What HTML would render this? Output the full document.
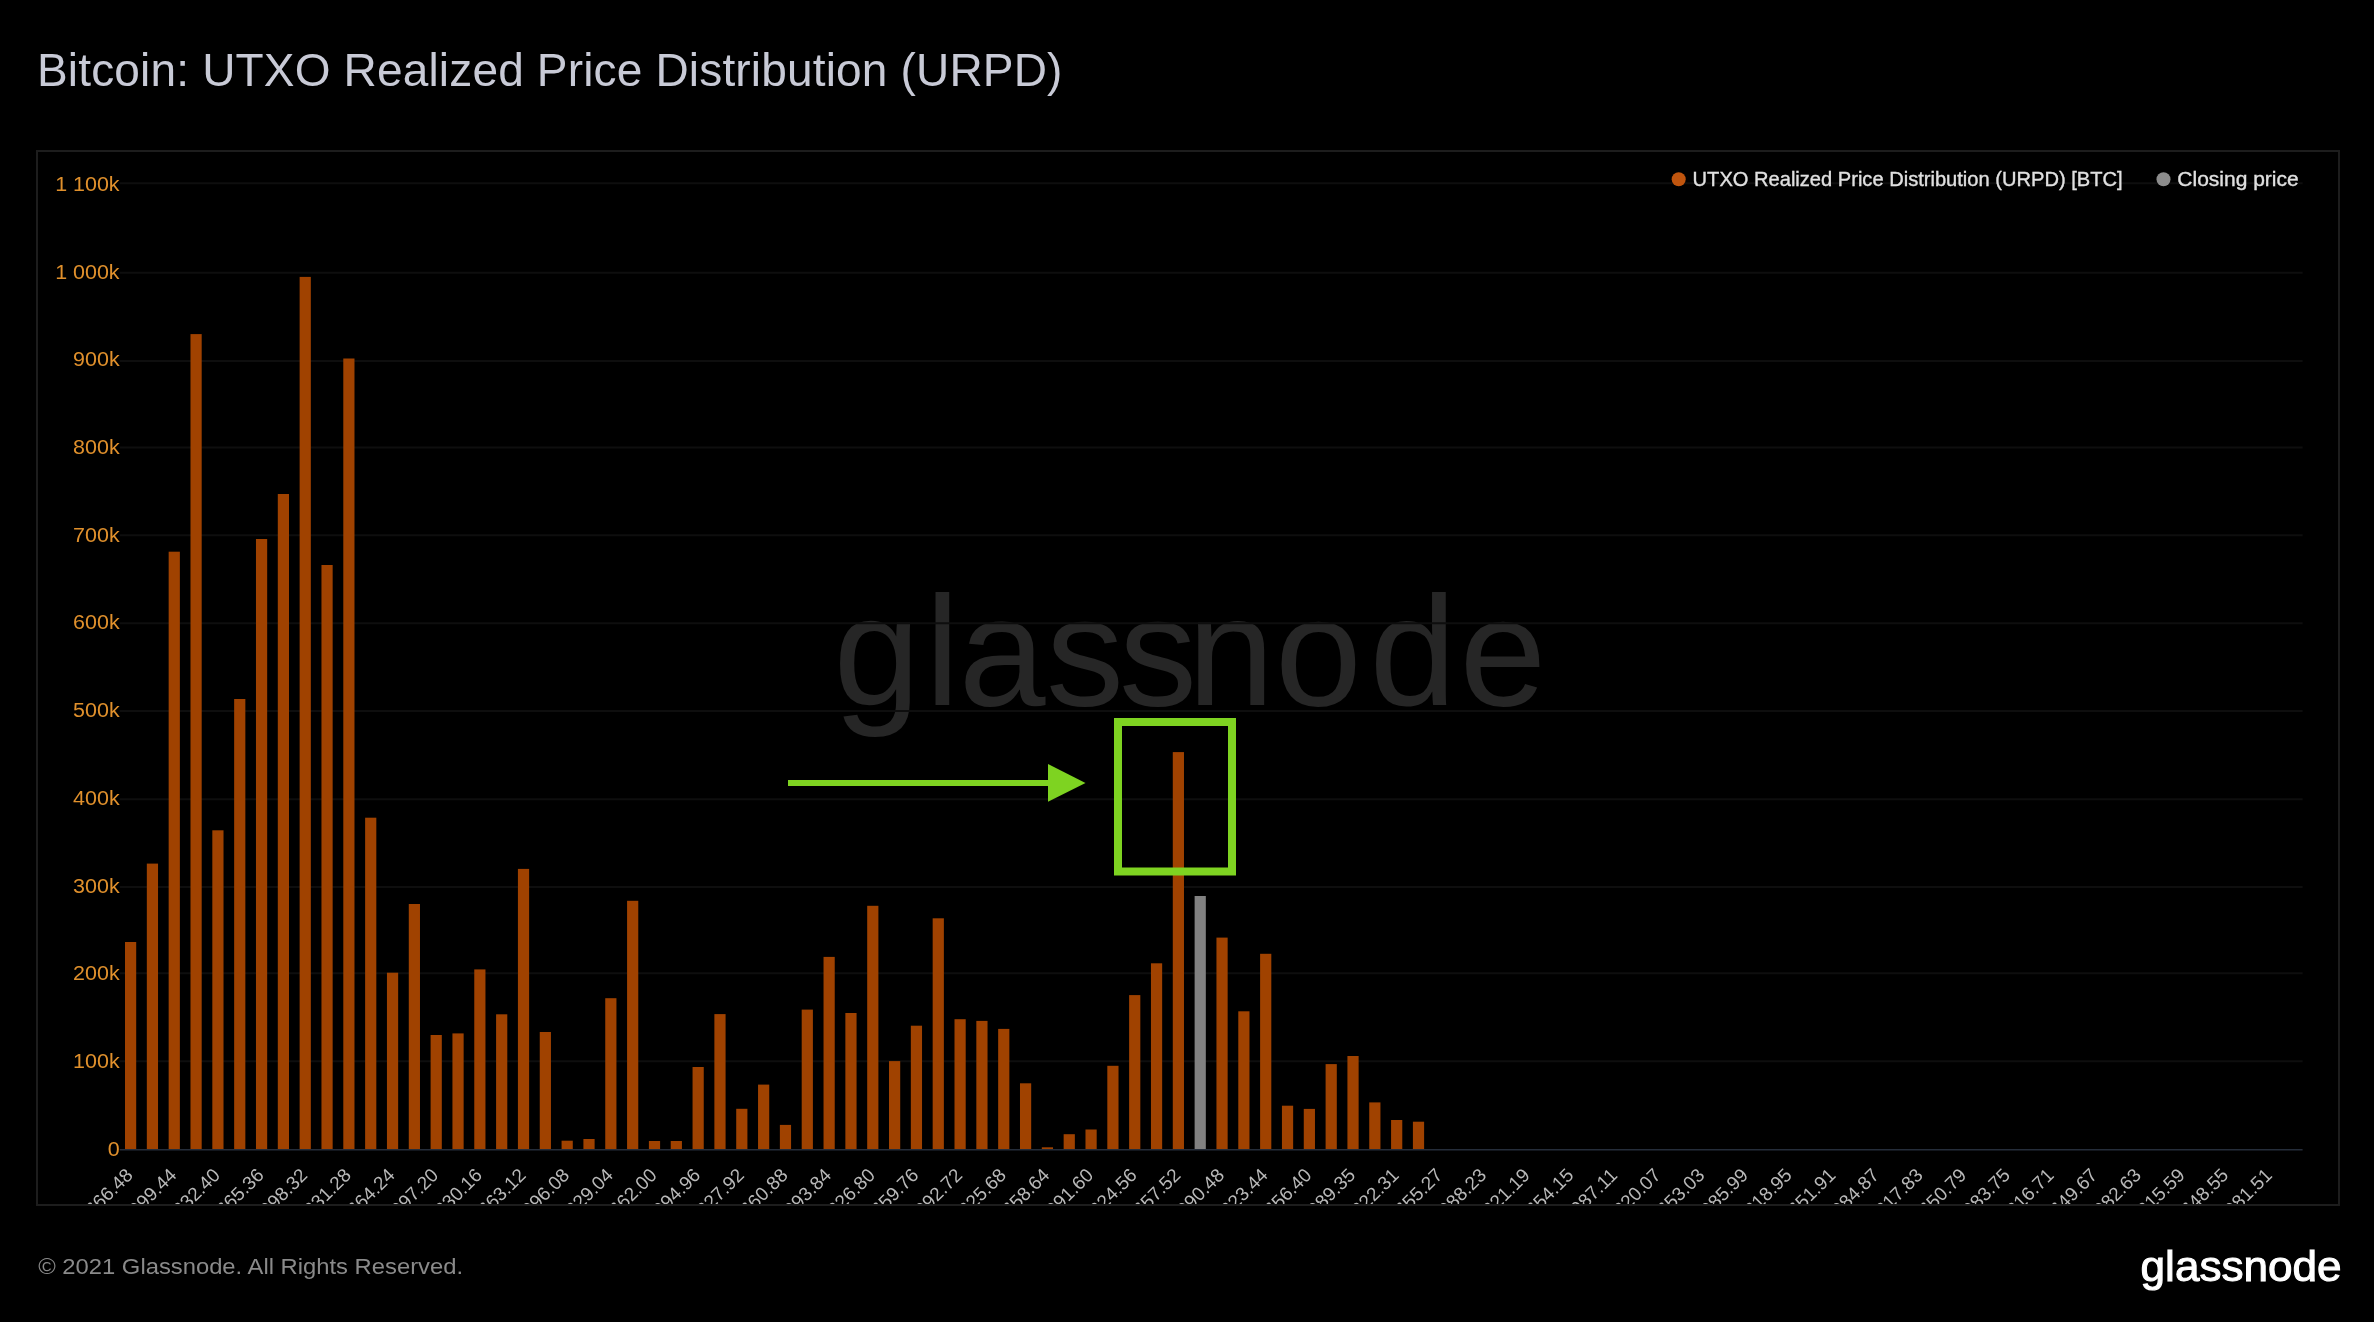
<!DOCTYPE html><html><head><meta charset="utf-8"><title>Bitcoin: UTXO Realized Price Distribution (URPD)</title>
<style>html,body{margin:0;padding:0;background:#000;width:2374px;height:1322px;overflow:hidden}svg{display:block;will-change:transform}text{font-family:"Liberation Sans",Arial,sans-serif}</style></head><body>
<svg width="2374" height="1322" viewBox="0 0 2374 1322">
<defs><clipPath id="cb"><rect x="38" y="152" width="2300" height="1052"/></clipPath></defs>
<rect x="0" y="0" width="2374" height="1322" fill="#000"/>
<text x="37" y="86" font-size="46" letter-spacing="0.17" fill="#c8cad6">Bitcoin: UTXO Realized Price Distribution (URPD)</text>
<rect x="37" y="151" width="2302" height="1054" fill="none" stroke="#1d1d1d" stroke-width="2"/>
<text x="833.5 924.9 958.8 1046 1119 1187.6 1274.9 1369.4 1459.6" y="705" font-size="156" fill="#262626">glassnode</text>
<line x1="119.7" x2="2302.6" y1="1061.3" y2="1061.3" stroke="#0e0e0e" stroke-width="2"/>
<line x1="119.7" x2="2302.6" y1="973.3" y2="973.3" stroke="#0e0e0e" stroke-width="2"/>
<line x1="119.7" x2="2302.6" y1="887.0" y2="887.0" stroke="#0e0e0e" stroke-width="2"/>
<line x1="119.7" x2="2302.6" y1="799.2" y2="799.2" stroke="#0e0e0e" stroke-width="2"/>
<line x1="119.7" x2="2302.6" y1="711.1" y2="711.1" stroke="#0e0e0e" stroke-width="2"/>
<line x1="119.7" x2="2302.6" y1="623.3" y2="623.3" stroke="#0e0e0e" stroke-width="2"/>
<line x1="119.7" x2="2302.6" y1="535.2" y2="535.2" stroke="#0e0e0e" stroke-width="2"/>
<line x1="119.7" x2="2302.6" y1="447.4" y2="447.4" stroke="#0e0e0e" stroke-width="2"/>
<line x1="119.7" x2="2302.6" y1="360.9" y2="360.9" stroke="#0e0e0e" stroke-width="2"/>
<line x1="119.7" x2="2302.6" y1="272.8" y2="272.8" stroke="#0e0e0e" stroke-width="2"/>
<line x1="119.7" x2="2302.6" y1="183.2" y2="183.2" stroke="#0e0e0e" stroke-width="2"/>
<g transform="translate(119.6 0) scale(1.1 1)">
<text x="0" y="1155.9" font-size="19.5" fill="#e0902c" text-anchor="end">0</text>
<text x="0" y="1068.2" font-size="19.5" fill="#e0902c" text-anchor="end">100k</text>
<text x="0" y="980.4" font-size="19.5" fill="#e0902c" text-anchor="end">200k</text>
<text x="0" y="892.7" font-size="19.5" fill="#e0902c" text-anchor="end">300k</text>
<text x="0" y="805.0" font-size="19.5" fill="#e0902c" text-anchor="end">400k</text>
<text x="0" y="717.2" font-size="19.5" fill="#e0902c" text-anchor="end">500k</text>
<text x="0" y="629.5" font-size="19.5" fill="#e0902c" text-anchor="end">600k</text>
<text x="0" y="541.8" font-size="19.5" fill="#e0902c" text-anchor="end">700k</text>
<text x="0" y="454.1" font-size="19.5" fill="#e0902c" text-anchor="end">800k</text>
<text x="0" y="366.3" font-size="19.5" fill="#e0902c" text-anchor="end">900k</text>
<text x="0" y="278.6" font-size="19.5" fill="#e0902c" text-anchor="end">1 000k</text>
<text x="0" y="190.9" font-size="19.5" fill="#e0902c" text-anchor="end">1 100k</text>
</g>
<rect x="125.00" y="942.0" width="11.2" height="207.4" fill="#a04200"/>
<rect x="146.83" y="863.6" width="11.2" height="285.8" fill="#a04200"/>
<rect x="168.66" y="551.7" width="11.2" height="597.7" fill="#a04200"/>
<rect x="190.49" y="334.1" width="11.2" height="815.3" fill="#a04200"/>
<rect x="212.32" y="830.3" width="11.2" height="319.1" fill="#a04200"/>
<rect x="234.15" y="699.0" width="11.2" height="450.4" fill="#a04200"/>
<rect x="255.97" y="539.0" width="11.2" height="610.4" fill="#a04200"/>
<rect x="277.80" y="494.0" width="11.2" height="655.4" fill="#a04200"/>
<rect x="299.63" y="276.9" width="11.2" height="872.5" fill="#a04200"/>
<rect x="321.46" y="565.0" width="11.2" height="584.4" fill="#a04200"/>
<rect x="343.29" y="358.5" width="11.2" height="790.9" fill="#a04200"/>
<rect x="365.12" y="817.7" width="11.2" height="331.7" fill="#a04200"/>
<rect x="386.95" y="972.7" width="11.2" height="176.7" fill="#a04200"/>
<rect x="408.78" y="904.0" width="11.2" height="245.4" fill="#a04200"/>
<rect x="430.61" y="1035.0" width="11.2" height="114.4" fill="#a04200"/>
<rect x="452.44" y="1033.4" width="11.2" height="116.0" fill="#a04200"/>
<rect x="474.26" y="969.4" width="11.2" height="180.0" fill="#a04200"/>
<rect x="496.09" y="1014.3" width="11.2" height="135.1" fill="#a04200"/>
<rect x="517.92" y="868.9" width="11.2" height="280.5" fill="#a04200"/>
<rect x="539.75" y="1032.0" width="11.2" height="117.4" fill="#a04200"/>
<rect x="561.58" y="1140.7" width="11.2" height="8.7" fill="#a04200"/>
<rect x="583.41" y="1139.0" width="11.2" height="10.4" fill="#a04200"/>
<rect x="605.24" y="998.2" width="11.2" height="151.2" fill="#a04200"/>
<rect x="627.07" y="900.8" width="11.2" height="248.6" fill="#a04200"/>
<rect x="648.90" y="1141.0" width="11.2" height="8.4" fill="#a04200"/>
<rect x="670.73" y="1141.0" width="11.2" height="8.4" fill="#a04200"/>
<rect x="692.55" y="1067.0" width="11.2" height="82.4" fill="#a04200"/>
<rect x="714.38" y="1014.1" width="11.2" height="135.3" fill="#a04200"/>
<rect x="736.21" y="1108.8" width="11.2" height="40.6" fill="#a04200"/>
<rect x="758.04" y="1084.6" width="11.2" height="64.8" fill="#a04200"/>
<rect x="779.87" y="1124.9" width="11.2" height="24.5" fill="#a04200"/>
<rect x="801.70" y="1009.6" width="11.2" height="139.8" fill="#a04200"/>
<rect x="823.53" y="956.9" width="11.2" height="192.5" fill="#a04200"/>
<rect x="845.36" y="1013.0" width="11.2" height="136.4" fill="#a04200"/>
<rect x="867.19" y="905.8" width="11.2" height="243.6" fill="#a04200"/>
<rect x="889.01" y="1061.1" width="11.2" height="88.3" fill="#a04200"/>
<rect x="910.84" y="1025.7" width="11.2" height="123.7" fill="#a04200"/>
<rect x="932.67" y="918.3" width="11.2" height="231.1" fill="#a04200"/>
<rect x="954.50" y="1019.2" width="11.2" height="130.2" fill="#a04200"/>
<rect x="976.33" y="1020.9" width="11.2" height="128.5" fill="#a04200"/>
<rect x="998.16" y="1028.9" width="11.2" height="120.5" fill="#a04200"/>
<rect x="1019.99" y="1083.3" width="11.2" height="66.1" fill="#a04200"/>
<rect x="1041.82" y="1147.3" width="11.2" height="2.1" fill="#a04200"/>
<rect x="1063.65" y="1134.2" width="11.2" height="15.2" fill="#a04200"/>
<rect x="1085.48" y="1129.5" width="11.2" height="19.9" fill="#a04200"/>
<rect x="1107.31" y="1065.8" width="11.2" height="83.6" fill="#a04200"/>
<rect x="1129.13" y="995.1" width="11.2" height="154.3" fill="#a04200"/>
<rect x="1150.96" y="963.3" width="11.2" height="186.1" fill="#a04200"/>
<rect x="1172.79" y="752.1" width="11.2" height="397.3" fill="#a04200"/>
<rect x="1194.62" y="896.0" width="11.2" height="253.4" fill="#818181"/>
<rect x="1216.45" y="937.6" width="11.2" height="211.8" fill="#a04200"/>
<rect x="1238.28" y="1011.3" width="11.2" height="138.1" fill="#a04200"/>
<rect x="1260.11" y="953.8" width="11.2" height="195.6" fill="#a04200"/>
<rect x="1281.94" y="1105.7" width="11.2" height="43.7" fill="#a04200"/>
<rect x="1303.77" y="1108.9" width="11.2" height="40.5" fill="#a04200"/>
<rect x="1325.60" y="1064.1" width="11.2" height="85.3" fill="#a04200"/>
<rect x="1347.42" y="1056.0" width="11.2" height="93.4" fill="#a04200"/>
<rect x="1369.25" y="1102.4" width="11.2" height="47.0" fill="#a04200"/>
<rect x="1391.08" y="1120.0" width="11.2" height="29.4" fill="#a04200"/>
<rect x="1412.91" y="1121.7" width="11.2" height="27.7" fill="#a04200"/>
<line x1="119.7" x2="2302.6" y1="1149.8" y2="1149.8" stroke="#252d3a" stroke-width="1.5"/>
<g clip-path="url(#cb)">
<text x="134.0" y="1176.2" font-size="19" fill="#b8b8b8" text-anchor="end" transform="rotate(-45 134.0 1176.2)">666.48</text>
<text x="177.7" y="1176.2" font-size="19" fill="#b8b8b8" text-anchor="end" transform="rotate(-45 177.7 1176.2)">1 999.44</text>
<text x="221.3" y="1176.2" font-size="19" fill="#b8b8b8" text-anchor="end" transform="rotate(-45 221.3 1176.2)">3 332.40</text>
<text x="265.0" y="1176.2" font-size="19" fill="#b8b8b8" text-anchor="end" transform="rotate(-45 265.0 1176.2)">4 665.36</text>
<text x="308.6" y="1176.2" font-size="19" fill="#b8b8b8" text-anchor="end" transform="rotate(-45 308.6 1176.2)">5 998.32</text>
<text x="352.3" y="1176.2" font-size="19" fill="#b8b8b8" text-anchor="end" transform="rotate(-45 352.3 1176.2)">7 331.28</text>
<text x="395.9" y="1176.2" font-size="19" fill="#b8b8b8" text-anchor="end" transform="rotate(-45 395.9 1176.2)">8 664.24</text>
<text x="439.6" y="1176.2" font-size="19" fill="#b8b8b8" text-anchor="end" transform="rotate(-45 439.6 1176.2)">9 997.20</text>
<text x="483.3" y="1176.2" font-size="19" fill="#b8b8b8" text-anchor="end" transform="rotate(-45 483.3 1176.2)">11 330.16</text>
<text x="526.9" y="1176.2" font-size="19" fill="#b8b8b8" text-anchor="end" transform="rotate(-45 526.9 1176.2)">12 663.12</text>
<text x="570.6" y="1176.2" font-size="19" fill="#b8b8b8" text-anchor="end" transform="rotate(-45 570.6 1176.2)">13 996.08</text>
<text x="614.2" y="1176.2" font-size="19" fill="#b8b8b8" text-anchor="end" transform="rotate(-45 614.2 1176.2)">15 329.04</text>
<text x="657.9" y="1176.2" font-size="19" fill="#b8b8b8" text-anchor="end" transform="rotate(-45 657.9 1176.2)">16 662.00</text>
<text x="701.6" y="1176.2" font-size="19" fill="#b8b8b8" text-anchor="end" transform="rotate(-45 701.6 1176.2)">17 994.96</text>
<text x="745.2" y="1176.2" font-size="19" fill="#b8b8b8" text-anchor="end" transform="rotate(-45 745.2 1176.2)">19 327.92</text>
<text x="788.9" y="1176.2" font-size="19" fill="#b8b8b8" text-anchor="end" transform="rotate(-45 788.9 1176.2)">20 660.88</text>
<text x="832.5" y="1176.2" font-size="19" fill="#b8b8b8" text-anchor="end" transform="rotate(-45 832.5 1176.2)">21 993.84</text>
<text x="876.2" y="1176.2" font-size="19" fill="#b8b8b8" text-anchor="end" transform="rotate(-45 876.2 1176.2)">23 326.80</text>
<text x="919.8" y="1176.2" font-size="19" fill="#b8b8b8" text-anchor="end" transform="rotate(-45 919.8 1176.2)">24 659.76</text>
<text x="963.5" y="1176.2" font-size="19" fill="#b8b8b8" text-anchor="end" transform="rotate(-45 963.5 1176.2)">25 992.72</text>
<text x="1007.2" y="1176.2" font-size="19" fill="#b8b8b8" text-anchor="end" transform="rotate(-45 1007.2 1176.2)">27 325.68</text>
<text x="1050.8" y="1176.2" font-size="19" fill="#b8b8b8" text-anchor="end" transform="rotate(-45 1050.8 1176.2)">28 658.64</text>
<text x="1094.5" y="1176.2" font-size="19" fill="#b8b8b8" text-anchor="end" transform="rotate(-45 1094.5 1176.2)">29 991.60</text>
<text x="1138.1" y="1176.2" font-size="19" fill="#b8b8b8" text-anchor="end" transform="rotate(-45 1138.1 1176.2)">31 324.56</text>
<text x="1181.8" y="1176.2" font-size="19" fill="#b8b8b8" text-anchor="end" transform="rotate(-45 1181.8 1176.2)">32 657.52</text>
<text x="1225.5" y="1176.2" font-size="19" fill="#b8b8b8" text-anchor="end" transform="rotate(-45 1225.5 1176.2)">33 990.48</text>
<text x="1269.1" y="1176.2" font-size="19" fill="#b8b8b8" text-anchor="end" transform="rotate(-45 1269.1 1176.2)">35 323.44</text>
<text x="1312.8" y="1176.2" font-size="19" fill="#b8b8b8" text-anchor="end" transform="rotate(-45 1312.8 1176.2)">36 656.40</text>
<text x="1356.4" y="1176.2" font-size="19" fill="#b8b8b8" text-anchor="end" transform="rotate(-45 1356.4 1176.2)">37 989.35</text>
<text x="1400.1" y="1176.2" font-size="19" fill="#b8b8b8" text-anchor="end" transform="rotate(-45 1400.1 1176.2)">39 322.31</text>
<text x="1443.7" y="1176.2" font-size="19" fill="#b8b8b8" text-anchor="end" transform="rotate(-45 1443.7 1176.2)">40 655.27</text>
<text x="1487.4" y="1176.2" font-size="19" fill="#b8b8b8" text-anchor="end" transform="rotate(-45 1487.4 1176.2)">41 988.23</text>
<text x="1531.1" y="1176.2" font-size="19" fill="#b8b8b8" text-anchor="end" transform="rotate(-45 1531.1 1176.2)">43 321.19</text>
<text x="1574.7" y="1176.2" font-size="19" fill="#b8b8b8" text-anchor="end" transform="rotate(-45 1574.7 1176.2)">44 654.15</text>
<text x="1618.4" y="1176.2" font-size="19" fill="#b8b8b8" text-anchor="end" transform="rotate(-45 1618.4 1176.2)">45 987.11</text>
<text x="1662.0" y="1176.2" font-size="19" fill="#b8b8b8" text-anchor="end" transform="rotate(-45 1662.0 1176.2)">47 320.07</text>
<text x="1705.7" y="1176.2" font-size="19" fill="#b8b8b8" text-anchor="end" transform="rotate(-45 1705.7 1176.2)">48 653.03</text>
<text x="1749.3" y="1176.2" font-size="19" fill="#b8b8b8" text-anchor="end" transform="rotate(-45 1749.3 1176.2)">49 985.99</text>
<text x="1793.0" y="1176.2" font-size="19" fill="#b8b8b8" text-anchor="end" transform="rotate(-45 1793.0 1176.2)">51 318.95</text>
<text x="1836.7" y="1176.2" font-size="19" fill="#b8b8b8" text-anchor="end" transform="rotate(-45 1836.7 1176.2)">52 651.91</text>
<text x="1880.3" y="1176.2" font-size="19" fill="#b8b8b8" text-anchor="end" transform="rotate(-45 1880.3 1176.2)">53 984.87</text>
<text x="1924.0" y="1176.2" font-size="19" fill="#b8b8b8" text-anchor="end" transform="rotate(-45 1924.0 1176.2)">55 317.83</text>
<text x="1967.6" y="1176.2" font-size="19" fill="#b8b8b8" text-anchor="end" transform="rotate(-45 1967.6 1176.2)">56 650.79</text>
<text x="2011.3" y="1176.2" font-size="19" fill="#b8b8b8" text-anchor="end" transform="rotate(-45 2011.3 1176.2)">57 983.75</text>
<text x="2055.0" y="1176.2" font-size="19" fill="#b8b8b8" text-anchor="end" transform="rotate(-45 2055.0 1176.2)">59 316.71</text>
<text x="2098.6" y="1176.2" font-size="19" fill="#b8b8b8" text-anchor="end" transform="rotate(-45 2098.6 1176.2)">60 649.67</text>
<text x="2142.3" y="1176.2" font-size="19" fill="#b8b8b8" text-anchor="end" transform="rotate(-45 2142.3 1176.2)">61 982.63</text>
<text x="2185.9" y="1176.2" font-size="19" fill="#b8b8b8" text-anchor="end" transform="rotate(-45 2185.9 1176.2)">63 315.59</text>
<text x="2229.6" y="1176.2" font-size="19" fill="#b8b8b8" text-anchor="end" transform="rotate(-45 2229.6 1176.2)">64 648.55</text>
<text x="2273.2" y="1176.2" font-size="19" fill="#b8b8b8" text-anchor="end" transform="rotate(-45 2273.2 1176.2)">65 981.51</text>
</g>
<circle cx="1678.7" cy="179.3" r="7" fill="#c0550e"/>
<text transform="translate(1692.6 186.4) scale(1.005 1)" font-size="20" fill="#e0e0e0" stroke="#e0e0e0" stroke-width="0.35">UTXO Realized Price Distribution (URPD) [BTC]</text>
<circle cx="2163.5" cy="179.3" r="7" fill="#8c8c8c"/>
<text transform="translate(2177.3 186.4) scale(1.05 1)" font-size="20" fill="#e0e0e0" stroke="#e0e0e0" stroke-width="0.35">Closing price</text>
<rect x="1118" y="722" width="114" height="149.5" fill="none" stroke="#7ed321" stroke-width="8"/>
<rect x="788" y="780" width="262" height="6" fill="#7ed321"/>
<polygon points="1048,764 1085.5,783 1048,801.8" fill="#7ed321"/>
<text transform="translate(38.2 1273.5) scale(1.082 1)" font-size="22" fill="#8a8a8a">© 2021 Glassnode. All Rights Reserved.</text>
<text transform="translate(2140.6 1281) scale(1.05 1)" font-size="42" fill="#fff" stroke="#fff" stroke-width="1">glassnode</text>
</svg></body></html>
